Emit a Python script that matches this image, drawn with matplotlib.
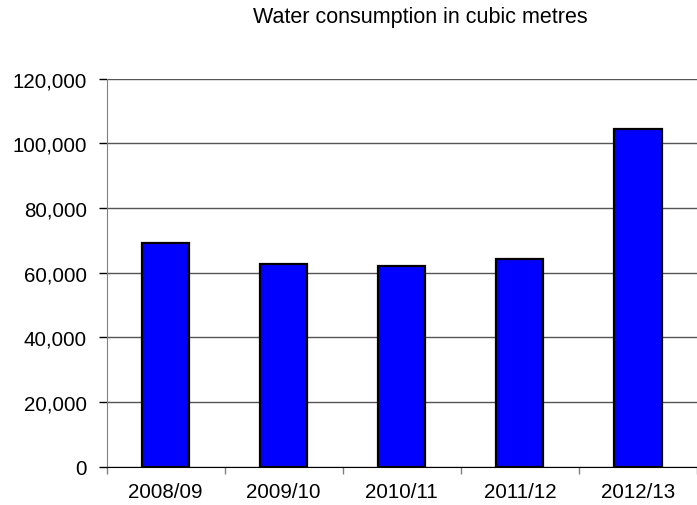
import numpy as np
import matplotlib.pyplot as plt
from matplotlib.ticker import FuncFormatter, FixedLocator

plt.rcParams['font.family'] = ['Liberation Sans', 'DejaVu Sans']

# Annual water use, cubic metres
years = ['2008/09', '2009/10', '2010/11', '2011/12', '2012/13']
consumption = [69200, 62700, 62200, 64100, 104400]

fig = plt.figure(figsize=(6.97, 5.06), dpi=100)
ax = fig.add_axes([0.1528, 0.0757, 0.8472, 0.7668])

x = np.arange(len(years))
ax.bar(x, consumption, width=0.4, color='#0000ff', edgecolor='black',
       linewidth=1.6, zorder=3)

ax.set_xlim(-0.5, len(years) - 0.5)
ax.set_ylim(0, 120000)
ax.set_yticks(np.arange(0, 120001, 20000))
ax.yaxis.set_major_formatter(FuncFormatter(lambda v, p: f'{int(v):,}'))
ax.yaxis.grid(True, color='#555555', linewidth=1, zorder=0)

# category labels centred on bars, tick marks between categories
ax.set_xticks(x)
ax.set_xticklabels(years)
ax.tick_params(axis='x', which='major', length=0, pad=11, labelsize=14.8)
ax.xaxis.set_minor_locator(FixedLocator(np.arange(-0.5, len(years), 1.0)))
ax.tick_params(axis='x', which='minor', length=5, color='#808080', width=1)
ax.tick_params(axis='y', length=6, width=1, color='black', pad=8, labelsize=14.8)

for side in ['top', 'right']:
    ax.spines[side].set_visible(False)
ax.spines['left'].set_color('#808080')
ax.spines['bottom'].set_color('black')

fig.text(0.603, 0.966, 'Water consumption in cubic metres', ha='center',
         va='center', fontsize=15.5)

fig.savefig('out.png', dpi=100)
